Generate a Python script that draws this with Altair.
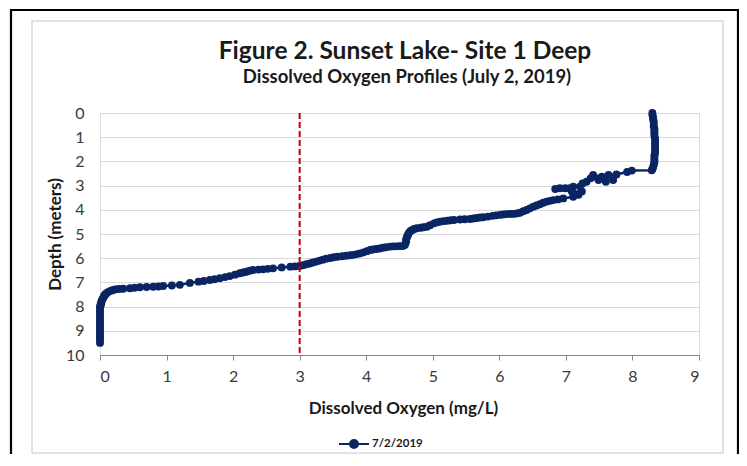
import altair as alt
import pandas as pd

# ---- data (dissolved oxygen mg/L vs depth m) ----
do_vals = [
    8.30, 8.30, 8.31, 8.31, 8.32, 8.32, 8.32, 8.33, 8.33, 8.33, 8.33, 8.34, 8.34,
    8.34, 8.34, 8.34, 8.34, 8.34, 8.33, 8.33, 8.33, 8.33, 8.32, 8.31, 8.30, 8.29,
    7.99, 7.92, 7.76, 7.64, 7.71, 7.60, 7.54, 7.41, 7.49, 7.37, 7.31, 7.25, 7.21,
    7.11, 7.06, 6.99, 6.91, 6.84, 7.09, 7.24, 7.19, 7.11, 6.96, 6.88, 6.81, 6.76,
    6.71, 6.66, 6.61, 6.56, 6.51, 6.46, 6.41, 6.36, 6.31, 6.26, 6.21, 6.16, 6.11,
    6.06, 6.01, 5.95, 5.90, 5.83, 5.76, 5.71, 5.66, 5.61, 5.56, 5.48, 5.41, 5.32,
    5.27, 5.22, 5.16, 5.11, 5.06, 5.02, 4.96, 4.91, 4.86, 4.82, 4.76, 4.72, 4.70,
    4.67, 4.66, 4.64, 4.63, 4.62, 4.61, 4.60, 4.60, 4.59, 4.58, 4.55, 4.50, 4.45,
    4.40, 4.36, 4.30, 4.25, 4.20, 4.15, 4.10, 4.06, 4.01, 3.96, 3.91, 3.86, 3.81,
    3.76, 3.70, 3.64, 3.57, 3.51, 3.46, 3.40, 3.35, 3.30, 3.25, 3.20, 3.15, 3.10,
    3.05, 3.00, 2.93, 2.86, 2.73, 2.60, 2.52, 2.45, 2.38, 2.30, 2.25, 2.20, 2.15,
    2.10, 2.03, 1.95, 1.88, 1.80, 1.72, 1.65, 1.56, 1.48, 1.35, 1.20, 1.08, 0.95,
    0.88, 0.80, 0.70, 0.60, 0.52, 0.45, 0.35, 0.30, 0.25, 0.21, 0.18, 0.15, 0.12,
    0.10, 0.08, 0.07, 0.06, 0.05, 0.04, 0.03, 0.02, 0.02, 0.01, 0.01, 0.00, 0.00,
    0.00, 0.00, 0.00, 0.00, 0.00, 0.00, 0.00, 0.00, 0.00, 0.00, 0.00, 0.00, 0.00,
    0.00,
]
depth_vals = [
    0.00, 0.08, 0.17, 0.26, 0.35, 0.45, 0.55, 0.65, 0.75, 0.85, 0.95, 1.05, 1.15,
    1.25, 1.35, 1.45, 1.55, 1.65, 1.75, 1.85, 1.95, 2.05, 2.15, 2.24, 2.31, 2.37,
    2.38, 2.44, 2.54, 2.56, 2.77, 2.84, 2.63, 2.56, 2.77, 2.70, 2.84, 2.91, 3.04,
    3.04, 3.11, 3.11, 3.11, 3.14, 3.24, 3.24, 3.38, 3.46, 3.53, 3.57, 3.60, 3.63,
    3.66, 3.71, 3.77, 3.82, 3.87, 3.94, 4.01, 4.06, 4.12, 4.15, 4.17, 4.17, 4.18,
    4.19, 4.21, 4.23, 4.25, 4.28, 4.31, 4.32, 4.34, 4.36, 4.38, 4.39, 4.40, 4.42,
    4.43, 4.45, 4.47, 4.49, 4.52, 4.56, 4.64, 4.70, 4.72, 4.74, 4.76, 4.79, 4.82,
    4.86, 4.90, 4.96, 5.02, 5.08, 5.14, 5.22, 5.30, 5.38, 5.45, 5.50, 5.50, 5.51,
    5.51, 5.52, 5.55, 5.57, 5.60, 5.62, 5.64, 5.66, 5.71, 5.76, 5.80, 5.83, 5.86,
    5.88, 5.90, 5.92, 5.94, 5.96, 5.99, 6.02, 6.06, 6.10, 6.14, 6.18, 6.22, 6.25,
    6.29, 6.32, 6.34, 6.35, 6.38, 6.42, 6.44, 6.46, 6.47, 6.49, 6.52, 6.56, 6.59,
    6.62, 6.68, 6.74, 6.78, 6.83, 6.87, 6.90, 6.94, 6.97, 7.02, 7.10, 7.13, 7.15,
    7.17, 7.18, 7.19, 7.20, 7.22, 7.24, 7.26, 7.27, 7.28, 7.30, 7.33, 7.36, 7.40,
    7.45, 7.49, 7.53, 7.57, 7.62, 7.68, 7.73, 7.80, 7.85, 7.90, 7.95, 8.00, 8.10,
    8.20, 8.30, 8.40, 8.50, 8.60, 8.70, 8.80, 8.90, 9.00, 9.10, 9.20, 9.30, 9.40,
    9.50,
]
series_name = "7/2/2019"
threshold = [3]
x_ticks = [0, 1, 2, 3, 4, 5, 6, 7, 8, 9]
y_ticks = [0, 1, 2, 3, 4, 5, 6, 7, 8, 9, 10]
title_text = "Figure 2. Sunset Lake- Site 1 Deep"
subtitle_text = "Dissolved Oxygen Profiles (July 2, 2019)"

NAVY = "#0b2463"
FONT = "Lato"
DARK = "#1a1a1a"

df = pd.DataFrame({
    "DO": do_vals,
    "Depth": depth_vals,
    "idx": list(range(len(do_vals))),
    "series": [series_name] * len(do_vals),
})

x_scale = alt.Scale(domain=[0, 9], nice=False, zero=False)
y_scale = alt.Scale(domain=[0, 10], nice=False, reverse=True)

x_axis = alt.Axis(
    values=x_ticks, tickCount=20, format="d", labelOverlap=False, grid=False,
    tickSize=5, tickColor="#868686", domainColor="#868686", labelFont=FONT,
    labelFontSize=16, labelColor="#3a3a3a", labelPadding=8,
    title="Dissolved Oxygen (mg/L)", titleFont=FONT, titleFontSize=17,
    titleFontWeight="bold", titleColor=DARK, titleX=303, titleY=53,
    titleBaseline="middle", titleAnchor="start", titleAlign="center",
)
y_axis = alt.Axis(
    values=y_ticks, tickCount=20, format="d", labelOverlap=False, grid=True,
    gridColor="#d9d9d9", gridWidth=1.2, ticks=False, domain=False,
    labelFont=FONT, labelFontSize=16, labelColor="#3a3a3a", labelPadding=16,
    title="Depth (meters)", titleFont=FONT, titleFontSize=17,
    titleFontWeight="bold", titleColor=DARK, titleX=-45, titleY=121,
    titleAngle=270, titleBaseline="middle", titleAlign="center",
    titleAnchor="start",
)

base = alt.Chart(df)

one = pd.DataFrame({"k": [0]})
outer = alt.Chart(one).mark_rect(
    fill="transparent", stroke="#000000", strokeWidth=2.2
).encode(x=alt.value(-89), x2=alt.value(638), y=alt.value(-103), y2=alt.value(360))
inner = alt.Chart(one).mark_rect(
    fill="transparent", stroke="#d9d9d9", strokeWidth=1.5
).encode(x=alt.value(-68), x2=alt.value(623), y=alt.value(-92), y2=alt.value(340))

title_mark = alt.Chart(one).mark_text(
    font=FONT, fontSize=24.5, fontWeight="bold", color=DARK,
    align="center", baseline="alphabetic",
).encode(x=alt.value(305), y=alt.value(-54), text=alt.value(title_text))
subtitle_mark = alt.Chart(one).mark_text(
    font=FONT, fontSize=18.5, fontWeight="bold", color=DARK,
    align="center", baseline="alphabetic",
).encode(x=alt.value(307), y=alt.value(-30), text=alt.value(subtitle_text))

line = base.mark_line(strokeWidth=2.5).encode(
    x=alt.X("DO:Q", scale=x_scale, axis=x_axis),
    y=alt.Y("Depth:Q", scale=y_scale, axis=y_axis),
    order="idx:Q",
    color=alt.Color(
        "series:N",
        scale=alt.Scale(range=[NAVY]),
        legend=alt.Legend(
            title=None, orient="none", legendX=238, legendY=315,
            symbolType="M-1,0H1M0.27,0A0.27,0.27,0,1,1,-0.27,0A0.27,0.27,0,1,1,0.27,0Z",
            symbolSize=900, symbolStrokeWidth=2, symbolFillColor=NAVY,
            labelFont=FONT, labelFontSize=11.5, labelFontWeight="bold",
            labelColor=DARK, labelOffset=2,
        ),
    ),
)
points = base.mark_circle(size=62, opacity=1, color=NAVY).encode(
    x=alt.X("DO:Q", scale=x_scale),
    y=alt.Y("Depth:Q", scale=y_scale),
)
rule = alt.Chart(pd.DataFrame({"x": threshold})).mark_rule(
    color="#c00000", strokeWidth=2, strokeDash=[6, 3]
).encode(x=alt.X("x:Q", scale=x_scale))

chart = alt.layer(
    outer, inner, title_mark, subtitle_mark, line, points, rule
).properties(
    width=599,
    height=242,
    autosize=alt.AutoSizeParams(type="none"),
    padding={"left": 92, "top": 105, "right": 40, "bottom": 99},
).configure_view(stroke="#7f7f7f", strokeWidth=1.2).configure(background="white")

chart.save("out.html", embed_options={"renderer": "svg", "actions": False})
